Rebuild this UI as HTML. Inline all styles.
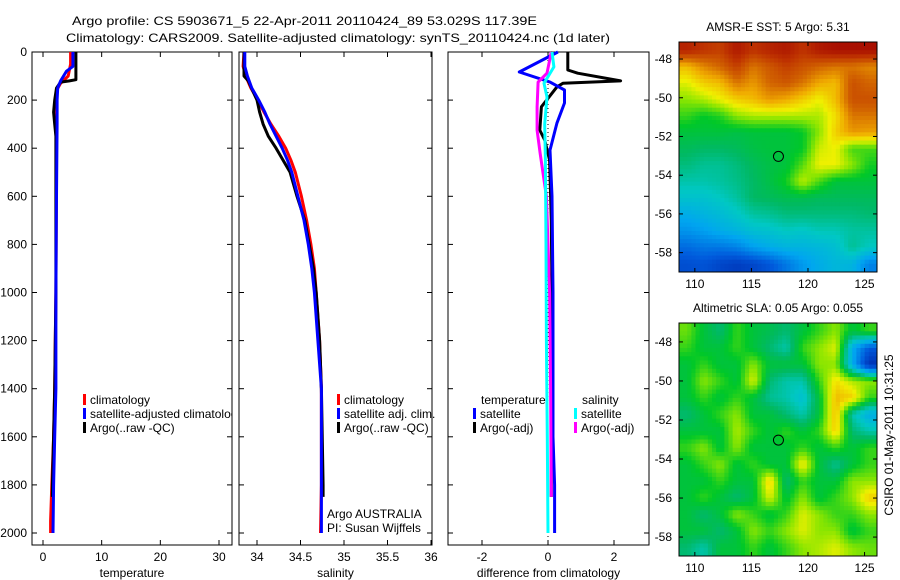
<!DOCTYPE html>
<html><head><meta charset="utf-8">
<style>
body{margin:0;background:#fff;}
svg{display:block;font-family:"Liberation Sans",Arial,sans-serif;}
text{fill:#000;font-size:12px;}
</style></head>
<body>
<svg id="fig" width="900" height="580" viewBox="0 0 900 580">
<defs><clipPath id="clip1"><rect x="32" y="52" width="200" height="493"/></clipPath></defs>
<text x="72" y="25" font-size="14" textLength="465" lengthAdjust="spacingAndGlyphs">Argo profile: CS 5903671_5 22-Apr-2011 20110424_89 53.029S 117.39E</text>
<text x="66" y="42" font-size="14" textLength="544" lengthAdjust="spacingAndGlyphs">Climatology: CARS2009. Satellite-adjusted climatology: synTS_20110424.nc (1d later)</text>
<g id="panels"></g>
</svg>
<script>
// ---------- data ----------
const depthTicks=[0,200,400,600,800,1000,1200,1400,1600,1800,2000];
const tTicks=[0,10,20,30];
const sTicks=[34,34.5,35,35.5,36];
const dTicks=[-2,0,2];
const tClimZ=[0,50,100,130,160,200,300,500,1000,1400,1600,1800,1950,2000];
const tClimV=[4.7,4.7,4.3,3.0,2.3,2.2,2.3,2.3,2.2,2.0,1.8,1.5,1.3,1.3];
const tSatZ=[0,60,80,120,150,200,300,600,1000,1400,1600,1800,2000];
const tSatV=[5.1,5.1,4.0,3.0,2.5,2.4,2.4,2.3,2.2,2.2,2.0,1.8,1.7];
const tArgoZ=[0,115,120,125,150,200,250,300,350,600,1000,1400,1600,1800,1850];
const tArgoV=[5.6,5.6,4.5,3.0,2.3,2.0,1.8,2.0,2.2,2.2,2.2,2.0,1.8,1.6,1.6];
const sClimZ=[0,60,100,150,200,250,300,350,400,450,500,600,700,800,900,1000,1200,1400,1800,2000];
const sClimV=[33.85,33.84,33.87,33.93,34.01,34.08,34.16,34.25,34.33,34.39,34.44,34.51,34.57,34.62,34.66,34.68,34.72,34.74,34.74,34.73];
const sSatZ=[0,60,100,150,200,250,300,350,400,450,500,600,700,800,900,1000,1200,1400,1800,2000];
const sSatV=[33.86,33.86,33.89,33.94,34.02,34.09,34.15,34.22,34.29,34.35,34.40,34.47,34.54,34.59,34.63,34.66,34.70,34.74,34.74,34.74];
const sArgoZ=[0,100,120,200,250,300,350,400,500,600,700,800,900,1000,1200,1400,1800,1850];
const sArgoV=[33.85,33.85,33.9,34.0,34.03,34.07,34.13,34.22,34.38,34.46,34.55,34.6,34.65,34.68,34.72,34.74,34.76,34.76];
const dTSatZ=[0,83,125,158,212,296,408,600,1000,1400,1600,1800,2000];
const dTSatV=[0.3,-0.87,0.06,0.5,0.5,0.27,0.06,0.12,0.15,0.15,0.15,0.2,0.2];
const dTArgoZ=[0,75,88,120,130,145,228,325,366,450,700,1000,1400,1850];
const dTArgoV=[0.6,0.6,0.9,2.2,0.45,0.27,-0.2,-0.25,-0.1,0.05,0.1,0.12,0.1,0.1];
const dSArgoZ=[0,88,125,228,325,420,600,1000,1400,1850];
const dSArgoV=[0.1,-0.03,-0.3,-0.33,-0.33,-0.24,-0.05,0.05,0.08,0.1];
const dSSatZ=[0,62,130,187,300,450,800,1200,1600,2000];
const dSSatV=[0.12,0.18,-0.12,-0.03,-0.1,-0.08,-0.06,-0.05,-0.02,0.0];
const lonTicks=[110,115,120,125];
const latTicks=[-48,-50,-52,-54,-56,-58];
const argoLon=117.39, argoLat=-53.03;
const sstGrid=[
[.93,.9,.88,.95,.9,.93,.95,.9,.95,.97,.97,.97],
[.72,.78,.82,.88,.8,.84,.88,.85,.82,.8,.8,.78],
[.65,.7,.72,.8,.76,.82,.84,.8,.74,.72,.85,.82],
[.6,.62,.66,.7,.72,.76,.74,.7,.66,.72,.85,.85],
[.55,.52,.54,.6,.62,.62,.62,.62,.62,.68,.8,.8],
[.5,.5,.5,.49,.5,.5,.5,.52,.6,.7,.76,.75],
[.47,.46,.46,.47,.49,.5,.5,.52,.64,.66,.56,.56],
[.44,.42,.42,.44,.47,.49,.5,.57,.66,.66,.6,.53],
[.4,.4,.41,.43,.46,.49,.53,.63,.56,.5,.5,.5],
[.36,.36,.38,.41,.46,.47,.48,.48,.47,.47,.47,.47],
[.3,.32,.34,.37,.41,.42,.44,.44,.44,.44,.44,.45],
[.25,.27,.3,.32,.35,.36,.38,.37,.39,.39,.41,.41],
[.18,.2,.2,.22,.27,.3,.32,.32,.33,.35,.42,.38],
[.12,.13,.1,.08,.1,.14,.2,.26,.3,.33,.32,.22]];
const slaGrid=[
[.58,.5,.45,.55,.5,.48,.45,.5,.55,.6,.5,.55],
[.55,.5,.5,.55,.5,.45,.4,.55,.6,.65,.3,.15],
[.5,.55,.5,.5,.6,.5,.5,.5,.6,.6,.3,.05],
[.5,.6,.55,.5,.65,.45,.4,.4,.55,.68,.62,.6],
[.5,.55,.5,.55,.5,.42,.4,.35,.5,.72,.7,.55],
[.45,.5,.55,.6,.5,.5,.45,.4,.5,.72,.4,.3],
[.5,.5,.5,.62,.55,.5,.55,.5,.55,.7,.45,.4],
[.55,.6,.5,.6,.5,.5,.5,.55,.5,.55,.5,.55],
[.5,.55,.6,.5,.55,.5,.5,.68,.5,.42,.5,.55],
[.5,.5,.55,.5,.5,.7,.45,.55,.5,.5,.6,.6],
[.5,.55,.5,.45,.5,.65,.5,.6,.5,.55,.6,.7],
[.5,.45,.5,.6,.55,.5,.55,.65,.6,.55,.55,.6],
[.5,.5,.45,.5,.6,.55,.6,.65,.6,.6,.5,.55],
[.45,.4,.5,.5,.55,.5,.55,.6,.62,.65,.6,.58]];

// ---------- helpers ----------
const NS='http://www.w3.org/2000/svg';
const root=document.getElementById('panels');
function mk(tag,attrs,parent){const e=document.createElementNS(NS,tag);for(const k in attrs)e.setAttribute(k,attrs[k]);(parent||root).appendChild(e);return e;}
const yTop=52, yBot=545;
function yD(z){return yTop+z*0.2405;}
function lin(d0,d1,p0,p1){return v=>p0+(v-d0)*(p1-p0)/(d1-d0);}
const cmStops=[[0,0,30,160],[0.15,0,90,220],[0.28,0,165,240],[0.38,0,200,195],[0.46,0,185,100],[0.52,0,200,40],[0.6,140,230,0],[0.66,240,240,0],[0.74,240,170,0],[0.82,210,100,0],[0.9,190,50,0],[1,160,0,0]];
function cmap(v){v=Math.max(0,Math.min(1,v));
 for(let i=1;i<cmStops.length;i++){const a=cmStops[i-1],b=cmStops[i];
  if(v<=b[0]){const f=(v-a[0])/(b[0]-a[0]);
   return `rgb(${Math.round(a[1]+f*(b[1]-a[1]))},${Math.round(a[2]+f*(b[2]-a[2]))},${Math.round(a[3]+f*(b[3]-a[3]))})`;}}
 return 'rgb(160,0,0)';}

function frame(x0,x1,name,xs,ticks,label,showY){
 const g=mk('g',{});
 
 
 const r=mk('rect',{x:x0,y:yTop,width:x1-x0,height:yBot-yTop,fill:'none',stroke:'#000','stroke-width':1},g);
 
 
 depthTicks.forEach(z=>{const y=yD(z);
  mk('line',{x1:x0,x2:x0+5,y1:y,y2:y,stroke:'#000'},g);
  mk('line',{x1:x1-5,x2:x1,y1:y,y2:y,stroke:'#000'},g);
  if(showY){const t=mk('text',{x:x0-5,y:y+4,'text-anchor':'end'},g);t.textContent=z;
   
   }
 });
 ticks.forEach(v=>{const x=xs(v);
  mk('line',{x1:x,x2:x,y1:yBot,y2:yBot-5,stroke:'#000'},g);
  mk('line',{x1:x,x2:x,y1:yTop,y2:yTop+5,stroke:'#000'},g);
  const t=mk('text',{x:x,y:561,'text-anchor':'middle'},g);t.textContent=v;
  
  
 });
 const lt=mk('text',{x:(x0+x1)/2,y:577,'text-anchor':'middle'},g);lt.textContent=label;
 
 
 return g;}
function line(g,zs,vs,xs,color,name,w){
 const pts=zs.map((z,i)=>xs(vs[i]).toFixed(1)+','+yD(z).toFixed(1)).join(' ');
 const p=mk('polyline',{points:pts,fill:'none',stroke:color,'stroke-width':w||3,'stroke-linejoin':'round'},g);
 
 }
function legend(g,x,y,color,label,name){
 mk('rect',{x:x,y:y-10,width:3,height:11,fill:color},g);
 const t=mk('text',{x:x+7,y:y},g);t.textContent=label;
 
 
 return t;}

// panel 1 temperature
const xT=lin(0,30,43,219);
const g1=frame(32,232,'temperature-panel',xT,tTicks,'temperature',true);
line(g1,tClimZ,tClimV,xT,'#f00','temperature-climatology-line');
line(g1,tArgoZ,tArgoV,xT,'#000','temperature-argo-line');
line(g1,tSatZ,tSatV,xT,'#00f','temperature-satellite-line');
legend(g1,83,404,'#f00','climatology','legend-climatology');
legend(g1,83,418,'#00f','satellite-adjusted climatology','legend-satellite-adjusted').setAttribute('clip-path','url(#clip1)');
legend(g1,83,432,'#000','Argo(..raw -QC)','legend-argo');

// panel 2 salinity
const xS=lin(34,36,257,431);
const g2=frame(239,432,'salinity-panel',xS,sTicks,'salinity',false);
line(g2,sClimZ,sClimV,xS,'#f00','salinity-climatology-line');
line(g2,sArgoZ,sArgoV,xS,'#000','salinity-argo-line');
line(g2,sSatZ,sSatV,xS,'#00f','salinity-satellite-line');
legend(g2,337,404,'#f00','climatology','legend-climatology');
legend(g2,337,418,'#00f','satellite adj. clim.','legend-satellite-adj');
legend(g2,337,432,'#000','Argo(..raw -QC)','legend-argo');
const a1=mk('text',{x:327,y:518},g2);a1.textContent='Argo AUSTRALIA';


const a2=mk('text',{x:327,y:532},g2);a2.textContent='PI: Susan Wijffels';



// panel 3 differences
const xDf=lin(0,2,548,614);
const g3=frame(448,649,'difference-panel',xDf,dTicks,'difference from climatology',false);
mk('line',{x1:xDf(0),x2:xDf(0),y1:yTop,y2:yBot,stroke:'#000','stroke-dasharray':'1,3'},g3);
line(g3,dTArgoZ,dTArgoV,xDf,'#000','temp-argo-diff-line');
line(g3,dTSatZ,dTSatV,xDf,'#00f','temp-satellite-diff-line');
line(g3,dSArgoZ,dSArgoV,xDf,'#f0f','sal-argo-diff-line');
line(g3,dSSatZ,dSSatV,xDf,'#0ff','sal-satellite-diff-line');
const lt1=mk('text',{x:481,y:404},g3);lt1.textContent='temperature';


const lt2=mk('text',{x:582,y:404},g3);lt2.textContent='salinity';


legend(g3,473,418,'#00f','satellite','legend-temp-satellite');
legend(g3,473,432,'#000','Argo(-adj)','legend-temp-argo');
legend(g3,574,418,'#0ff','satellite','legend-sal-satellite');
legend(g3,574,432,'#f0f','Argo(-adj)','legend-sal-argo');

// maps (grid values rendered with bilinear sub-cells for smoothness)
function sample(grid,fy,fx){
 const R=grid.length,C=grid[0].length;
 fy=Math.max(0,Math.min(R-1,fy));fx=Math.max(0,Math.min(C-1,fx));
 const i=Math.floor(fy),j=Math.floor(fx),i2=Math.min(R-1,i+1),j2=Math.min(C-1,j+1);
 const a=fy-i,b=fx-j;
 return grid[i][j]*(1-a)*(1-b)+grid[i][j2]*(1-a)*b+grid[i2][j]*a*(1-b)+grid[i2][j2]*a*b;}
function map(top,bot,latTop,latBot,grid,title,name){
 const x0=679,x1=877;
 const g=mk('g',{});
 
 
 const xL=lin(108.6,126.1,x0,x1), yL=lin(latTop,latBot,top,bot);
 const rows=grid.length, cols=grid[0].length, S=4;
 const cw=(x1-x0)/(cols*S), ch=(bot-top)/(rows*S);
 for(let i=0;i<rows*S;i++)for(let j=0;j<cols*S;j++){
  const v=sample(grid,(i+0.5)/S-0.5,(j+0.5)/S-0.5);
  const c=mk('rect',{x:(x0+j*cw).toFixed(2),y:(top+i*ch).toFixed(2),width:(cw+0.5).toFixed(2),height:(ch+0.5).toFixed(2),fill:cmap(v)},g);
  
  
 }
 mk('rect',{x:x0,y:top,width:x1-x0,height:bot-top,fill:'none',stroke:'#000'},g);
 latTicks.forEach(v=>{const y=yL(v);
  mk('line',{x1:x0,x2:x0+4,y1:y,y2:y,stroke:'#000'},g);
  mk('line',{x1:x1-4,x2:x1,y1:y,y2:y,stroke:'#000'},g);
  const t=mk('text',{x:x0-7,y:y+4,'text-anchor':'end'},g);t.textContent=v;
  
  });
 lonTicks.forEach(v=>{const x=xL(v);
  mk('line',{x1:x,x2:x,y1:bot,y2:bot-4,stroke:'#000'},g);
  mk('line',{x1:x,x2:x,y1:top,y2:top+4,stroke:'#000'},g);
  const t=mk('text',{x:x,y:bot+16,'text-anchor':'middle'},g);t.textContent=v;
  
  });
 const c=mk('circle',{cx:xL(argoLon),cy:yL(argoLat),r:5,fill:'none',stroke:'#000'},g);
 
 
 const t=mk('text',{x:(x0+x1)/2,y:top-11,'text-anchor':'middle'},g);t.textContent=title;
 
 }
map(42,272,-47.12,-59.0,sstGrid,'AMSR-E SST: 5 Argo: 5.31','sst-map');
map(323,556,-47.03,-58.97,slaGrid,'Altimetric SLA: 0.05 Argo: 0.055','sla-map');
const cs=mk('text',{x:0,y:0,transform:'translate(893,435) rotate(-90)','text-anchor':'middle'});
cs.textContent='CSIRO 01-May-2011 10:31:25';


</script>
</body></html>
